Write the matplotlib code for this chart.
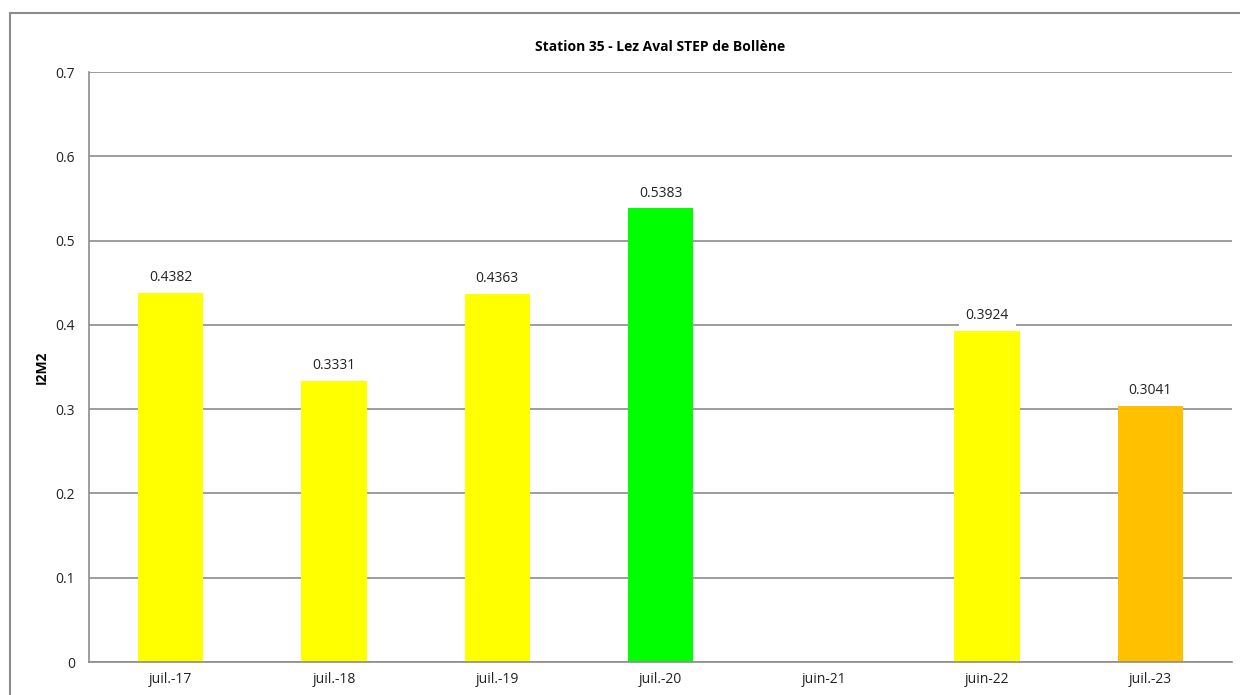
import numpy as np
import matplotlib
matplotlib.use("Agg")
import matplotlib.pyplot as plt
from matplotlib.patches import Rectangle

# // Donnees I2M2 par campagne
campagnes = ["juil.-17", "juil.-18", "juil.-19", "juil.-20", "juin-21", "juin-22", "juil.-23"]
valeurs = [0.4382, 0.3331, 0.4363, 0.5383, np.nan, 0.3924, 0.3041]
couleurs = ["#FFFF00", "#FFFF00", "#FFFF00", "#00FF00", "#FFFFFF", "#FFFF00", "#FFC000"]
graduations = [0, 0.1, 0.2, 0.3, 0.4, 0.5, 0.6, 0.7]

plt.rcParams["font.family"] = ["Open Sans", "DejaVu Sans"]
gris = "#8C8C8C"
taille = 10

fig = plt.figure(figsize=(12.4, 6.95), dpi=100)
ax = fig.add_axes([89 / 1240, 33 / 695, (1232 - 89) / 1240, (662 - 72) / 695])

x = np.arange(len(campagnes))
ax.bar(x, valeurs, width=0.4, color=couleurs, zorder=2)

for xi, v in zip(x, valeurs):
    if np.isnan(v):
        continue
    ax.annotate(f"{v:.4f}", (xi, v), xytext=(0, 11), textcoords="offset points",
                ha="center", va="center", fontsize=taille, color="#222222", zorder=4,
                bbox=dict(boxstyle="square,pad=0.5", fc="white", ec="none"))

ax.set_xlim(-0.5, len(campagnes) - 0.5)
ax.set_ylim(0, 0.7)
ax.set_yticks(graduations)
ax.set_yticklabels([f"{g:g}" for g in graduations])
ax.set_xticks(x)
ax.set_xticklabels(campagnes)
ax.tick_params(axis="both", length=0, labelsize=taille, colors="#222222")
ax.tick_params(axis="y", pad=10)
ax.tick_params(axis="x", pad=7)
ax.yaxis.grid(True, color=gris, linewidth=1.2, zorder=1)
ax.set_axisbelow(True)

for cote in ["top", "right"]:
    ax.spines[cote].set_visible(False)
for cote in ["left", "bottom"]:
    ax.spines[cote].set_color(gris)
    ax.spines[cote].set_linewidth(1.2)

ax.set_ylabel("I2M2", fontsize=taille, fontweight="bold", labelpad=5)
ax.set_title("Station 35 - Lez Aval STEP de Bollène", fontsize=taille, fontweight="bold", pad=15)

# // Cadre exterieur du graphique (coupe a droite et en bas)
fig.patches.append(Rectangle((10 / 1240, -0.1), 1.2, 1 - 12.5 / 695 + 0.1,
                             transform=fig.transFigure, fill=False,
                             edgecolor=gris, linewidth=1.5))

fig.savefig("out.png", dpi=100)
